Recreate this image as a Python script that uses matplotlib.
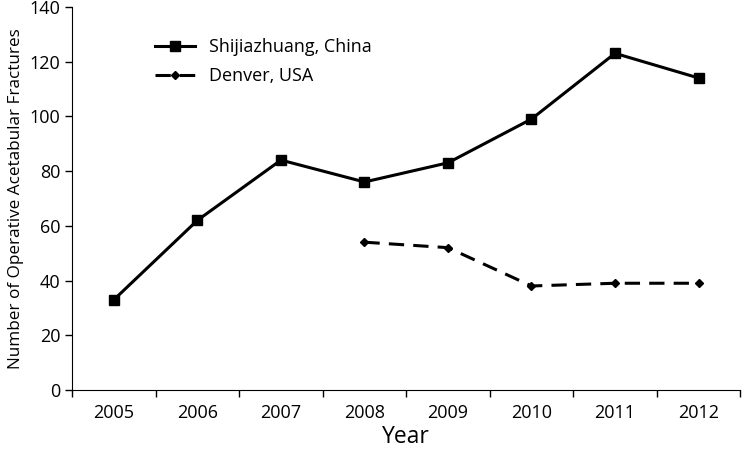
import numpy as np
import matplotlib
matplotlib.use("Agg")
import matplotlib.pyplot as plt

years = ["2005", "2006", "2007", "2008", "2009", "2010", "2011", "2012"]
shijiazhuang = [33, 62, 84, 76, 83, 99, 123, 114]
denver_years = ["2008", "2009", "2010", "2011", "2012"]
denver = [54, 52, 38, 39, 39]

plt.rcParams['font.family'] = ['Open Sans', 'DejaVu Sans']

fig = plt.figure(figsize=(7.44, 4.54), dpi=100)
ax = fig.add_axes([0.097, 0.141, 0.898, 0.844])

x = np.arange(len(years))
xd = np.array([years.index(y) for y in denver_years])
ax.plot(x, shijiazhuang, "-", color="black", lw=2.2, marker="s", ms=6.5,
        label="Shijiazhuang, China")
ax.plot(xd, denver, "--", color="black", lw=2.2, marker="D", ms=4.5,
        dashes=(5, 3), label="Denver, USA")

ax.set_xlim(-0.5, len(years) - 0.5)
ax.set_ylim(0, 140)
ax.set_yticks(range(0, 141, 20))
ax.set_xticks(x)
ax.set_xticklabels(years, fontsize=13)
ax.set_xticks(np.arange(-0.5, len(years), 1), minor=True)
ax.tick_params(axis="x", which="major", length=0, pad=10)
ax.tick_params(axis="x", which="minor", length=5, width=1, direction="out")
ax.tick_params(axis="y", labelsize=13, length=5, width=1, direction="out")
for s in ["top", "right"]:
    ax.spines[s].set_visible(False)
ax.set_xlabel("Year", fontsize=16.5, labelpad=2)
ax.set_ylabel("Number of Operative Acetabular Fractures", fontsize=12.3, labelpad=4)

ax.legend(loc="upper left", bbox_to_anchor=(0.1, 0.96), frameon=False,
          fontsize=13, handlelength=2.2, labelspacing=0.6)
fig.savefig("out.png", dpi=100)
